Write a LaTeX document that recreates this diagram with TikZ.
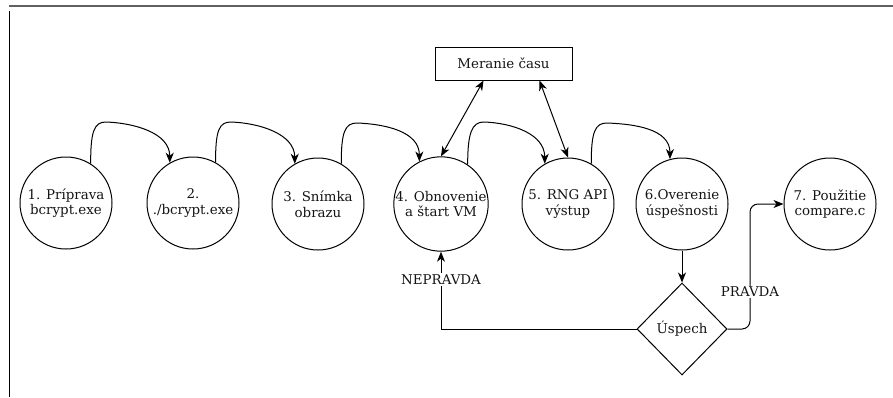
\documentclass[tikz,border=0pt]{standalone}
\usepackage{fontspec}
\setmainfont{DejaVu Serif}
\usetikzlibrary{arrows.meta,shapes.geometric,calc}

\begin{document}
\begin{tikzpicture}[x=1pt,y=-1pt,
  every node/.style={font=\fontsize{13.4}{15.5}\selectfont, text=black!92},
  stepcircle/.style={draw, circle, minimum size=92pt, inner sep=0pt, align=center, line width=1pt},
  timebox/.style={draw, rectangle, minimum width=137pt, minimum height=33pt, inner sep=0pt, line width=1pt},
  decision/.style={draw, diamond, aspect=1, minimum width=90pt, minimum height=92pt, inner sep=0pt, line width=1pt},
  tip/.tip={Stealth[length=10pt,width=8pt,inset=3pt]},
  flow/.style={line width=1pt, -tip},
  both/.style={line width=1pt, tip-tip},
  edgelabel/.style={fill=white, inner sep=1.5pt}
]
\useasboundingbox (0,0) rectangle (893,397);

% page frame
\draw[line width=2pt, black!62] (9,5.5) -- (893,5.5);
\draw[line width=1pt] (9,11) -- (9,397);

% process steps
\node[stepcircle] (c1) at (66,203)  {1. Príprava\\bcrypt.exe};
\node[stepcircle] (c2) at (193,203) {2.\\./bcrypt.exe};
\node[stepcircle] (c3) at (318,204) {3. Snímka\\obrazu};
\node[stepcircle] (c4) at (441,204) {4. Obnovenie\\a štart VM};
\node[stepcircle] (c5) at (568,204) {5. RNG API\\výstup};
\node[stepcircle] (c6) at (682,204) {6.Overenie\\úspešnosti};
\node[stepcircle] (c7) at (830,204) {7. Použitie\\compare.c};

\node[timebox] (m) at (503.5,63.5) {Meranie času};
\node[decision] (d) at (682,329) {Úspech};

% tops of the hops between steps
\coordinate (p12) at (106,122);
\coordinate (p23) at (231,122);
\coordinate (p34) at (357,123);
\coordinate (p45) at (484,122);
\coordinate (p56) at (607,123);

\tikzset{hop/.style={flow}}
\draw[hop] (c1.58) .. controls +(0,-32) and +(-12,0) .. (p12)
            .. controls +(28,1) and +(0,-30) .. (c2.120);
\draw[hop] (c2.61) .. controls +(0,-32) and +(-12,0) .. (p23)
            .. controls +(28,1) and +(0,-30) .. (c3.120);
\draw[hop] (c3.60) .. controls +(0,-32) and +(-12,0) .. (p34)
            .. controls +(28,1) and +(0,-30) .. (c4.117);
\draw[hop] (c4.56) .. controls +(0,-32) and +(-12,0) .. (p45)
            .. controls +(28,1) and +(0,-30) .. (c5.120);
\draw[hop] (c5.60) .. controls +(0,-32) and +(-12,0) .. (p56)
            .. controls +(28,1) and +(0,-30) .. (c6.105);

% timing links
\draw[both] ($(m.south)+(-20,0)$) -- (c4.north);
\draw[both] ($(m.south)+(36,0)$) -- (c5.north);

% decision
\draw[flow] (c6.south) -- (d.north);
\draw[flow] (d.west) -| (c4.south) node[pos=0.82, edgelabel] {NEPRAVDA};
\draw[flow, rounded corners=8pt] (d.east) -- (750,329) -- (750,204) -- (c7.west);
\node[edgelabel] (pl) at (750,292) {PRAVDA};
\end{tikzpicture}
\end{document}
